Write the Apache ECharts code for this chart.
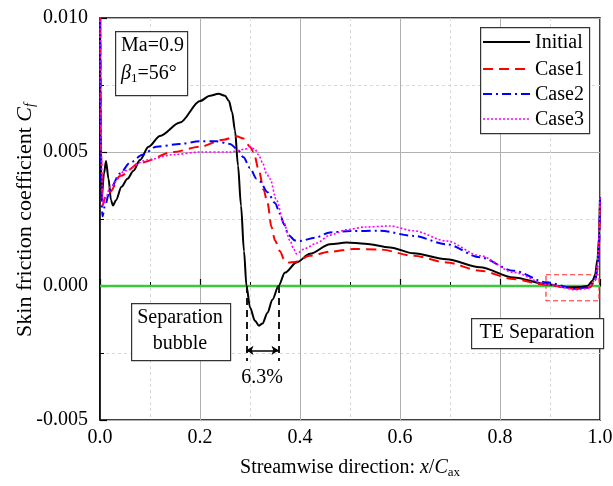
<!DOCTYPE html>
<html>
<head>
<meta charset="utf-8">
<script src="https://cdn.jsdelivr.net/npm/echarts@6/dist/echarts.min.js"></script>
<style>html,body{margin:0;padding:0;background:#fff}#c{width:613px;height:486px}</style>
</head>
<body>
<div id="c"></div>
<script>
// ---- data ----
const initialX = [0, 0.001, 0.003, 0.008, 0.012, 0.017, 0.022, 0.026, 0.032, 0.043, 0.055, 0.067, 0.08, 0.097, 0.12, 0.16, 0.2, 0.22, 0.237, 0.25, 0.258, 0.264, 0.27, 0.276, 0.282, 0.288, 0.293, 0.3, 0.31, 0.318, 0.325, 0.335, 0.345, 0.357, 0.37, 0.393, 0.42, 0.46, 0.493, 0.53, 0.58, 0.627, 0.693, 0.76, 0.827, 0.893, 0.933, 0.96, 0.975, 0.985, 0.99, 0.995, 0.998, 1.0];
const initialY = [0.012, 0.006, 0.0032, 0.0042, 0.00466, 0.0040, 0.0032, 0.0030, 0.0032, 0.0037, 0.0040, 0.0043, 0.0047, 0.0052, 0.0056, 0.0061, 0.0069, 0.0071, 0.00717, 0.0071, 0.0069, 0.0065, 0.0058, 0.0045, 0.0030, 0.0013, 0.0, -0.0008, -0.0013, -0.00148, -0.0014, -0.0010, -0.0005, 0.0, 0.0005, 0.00088, 0.0012, 0.00156, 0.00162, 0.00158, 0.00144, 0.00122, 0.0010, 0.0007, 0.00032, 0.00007, -0.00005, -0.00004, 0.0, 0.0002, 0.0004, 0.0010, 0.0018, 0.0033];

const case1X = [0, 0.002, 0.005, 0.01, 0.02, 0.04, 0.08, 0.147, 0.2, 0.247, 0.273, 0.287, 0.3, 0.307, 0.318, 0.327, 0.335, 0.343, 0.35, 0.36, 0.368, 0.377, 0.39, 0.42, 0.46, 0.507, 0.56, 0.627, 0.693, 0.76, 0.827, 0.893, 0.953, 0.98, 0.99, 0.995, 0.998, 1.0];
const case1Y = [0.012, 0.005, 0.0030, 0.0033, 0.0035, 0.0041, 0.0046, 0.0050, 0.0052, 0.00546, 0.00559, 0.0055, 0.0052, 0.0050, 0.0043, 0.0036, 0.0031, 0.0022, 0.0017, 0.0013, 0.0010, 0.00088, 0.0009, 0.00113, 0.00128, 0.00138, 0.00136, 0.00113, 0.00088, 0.00057, 0.00026, 0.00004, -0.00011, -0.00005, 0.0002, 0.0006, 0.0015, 0.0033];

const case2X = [0, 0.002, 0.005, 0.01, 0.02, 0.04, 0.06, 0.085, 0.113, 0.16, 0.2, 0.233, 0.26, 0.275, 0.287, 0.3, 0.313, 0.32, 0.335, 0.35, 0.36, 0.368, 0.377, 0.39, 0.4, 0.43, 0.46, 0.5, 0.56, 0.627, 0.693, 0.76, 0.827, 0.893, 0.947, 0.975, 0.99, 0.995, 0.998, 1.0];
const case2Y = [0.012, 0.004, 0.0026, 0.0030, 0.0036, 0.0042, 0.0046, 0.0049, 0.0052, 0.0053, 0.0054, 0.0054, 0.0053, 0.0051, 0.0048, 0.0044, 0.0040, 0.0039, 0.0035, 0.0031, 0.0027, 0.0023, 0.0019, 0.0017, 0.00168, 0.0018, 0.0020, 0.00205, 0.00206, 0.00187, 0.00156, 0.00107, 0.00057, 0.00014, -0.00009, -0.00006, 0.0002, 0.0007, 0.0016, 0.0033];

const case3X = [0, 0.002, 0.006, 0.012, 0.02, 0.05, 0.093, 0.147, 0.2, 0.26, 0.29, 0.3, 0.31, 0.317, 0.325, 0.333, 0.34, 0.353, 0.367, 0.38, 0.387, 0.393, 0.41, 0.433, 0.46, 0.493, 0.53, 0.58, 0.627, 0.693, 0.76, 0.827, 0.893, 0.953, 0.975, 0.99, 0.995, 0.998, 1.0];
const case3Y = [0.012, 0.005, 0.0030, 0.0033, 0.0037, 0.0043, 0.0047, 0.0049, 0.0050, 0.0050, 0.0051, 0.0052, 0.0051, 0.0049, 0.0046, 0.0042, 0.0040, 0.0032, 0.0024, 0.0017, 0.0014, 0.0012, 0.0014, 0.0016, 0.0019, 0.0021, 0.0022, 0.00224, 0.00206, 0.00168, 0.00113, 0.00051, 0.00007, -0.00014, -0.0001, 0.0002, 0.0008, 0.0018, 0.0033];

const seriesNames = ['Initial', 'Case1', 'Case2', 'Case3'];
const seriesColors = ['#000000', '#ff0000', '#0000ff', '#ff00ff'];
const seriesDash = [null, [10, 6], [9, 4, 2, 4], [2, 2]];
const seriesWidth = [2, 2, 2, 1.6];
const bubbleStart = 0.293, bubbleEnd = 0.357;
const teBox = [[0.892, 0.00042], [0.998, -0.00055]];

// ---- chart ----
const FONT = "'Liberation Serif', 'Times New Roman', serif";
const pairs = (xs, ys) => xs.map((x, i) => [x, ys[i]]);
const chart = echarts.init(document.getElementById('c'), null, {renderer: 'canvas'});

const mk = (i, xs, ys) => ({
  name: seriesNames[i], type: 'line', data: pairs(xs, ys), symbol: 'none', smooth: 0.3, smoothMonotone: 'x',
  clip: true, lineStyle: {color: seriesColors[i], type: seriesDash[i] || 'solid', width: seriesWidth[i]},
  itemStyle: {color: seriesColors[i]}, z: 3
});

// manual legend (line samples + labels)
const legendGraphics = [
  {type: 'rect', left: 480, top: 27, shape: {width: 109, height: 106}, style: {fill: '#fff', stroke: '#333', lineWidth: 1.2}, z: 10}
];
const legendRows = [42, 69, 94, 119];
seriesNames.forEach((n, i) => {
  legendGraphics.push({type: 'line', z: 11, shape: {x1: 483, y1: legendRows[i], x2: 530, y2: legendRows[i]},
    style: {stroke: seriesColors[i], lineWidth: seriesWidth[i], lineDash: seriesDash[i] || null}});
  legendGraphics.push({type: 'text', z: 11, style: {x: 535, y: legendRows[i] + 1, text: n, font: '20px ' + FONT, fill: '#000', align: 'left', verticalAlign: 'middle'}});
});

const option = {
  animation: false,
  backgroundColor: '#fff',
  grid: {left: 100, right: 13, top: 18, bottom: 66, containLabel: false, outerBoundsMode: 'none',
         show: true, borderColor: '#000', borderWidth: 1.5, backgroundColor: 'transparent'},
  xAxis: {
    type: 'value', min: 0, max: 1, interval: 0.2,
    axisLine: {show: true, lineStyle: {color: '#000', width: 1.5}},
    axisTick: {show: true, inside: true, length: 7, lineStyle: {color: '#000', width: 1.2}},
    minorTick: {show: true, splitNumber: 2, length: 4, lineStyle: {color: '#000', width: 1}},
    splitLine: {show: true, lineStyle: {color: '#b0b0b0', width: 1}},
    minorSplitLine: {show: true, lineStyle: {color: '#d8d8d8', type: [3, 3], width: 1}},
    axisLabel: {fontFamily: FONT, fontSize: 20, color: '#000', margin: 8, formatter: v => v.toFixed(1)},
    name: '{a|Streamwise direction: }{i|x}{a|/}{i|C}{s|ax}', nameLocation: 'middle', nameGap: 36,
    nameTextStyle: {rich: {
      a: {fontFamily: FONT, fontSize: 20, color: '#000'},
      i: {fontFamily: FONT, fontSize: 20, fontStyle: 'italic', color: '#000'},
      s: {fontFamily: FONT, fontSize: 13, color: '#000', padding: [10, 0, 0, 0]}
    }}
  },
  yAxis: {
    type: 'value', min: -0.005, max: 0.010, interval: 0.005,
    axisLine: {show: true, lineStyle: {color: '#000', width: 1.5}},
    axisTick: {show: true, inside: true, length: 7, lineStyle: {color: '#000', width: 1.2}},
    minorTick: {show: true, splitNumber: 2, length: 4, lineStyle: {color: '#000', width: 1}},
    splitLine: {show: true, lineStyle: {color: '#b0b0b0', width: 1}},
    minorSplitLine: {show: true, lineStyle: {color: '#d8d8d8', type: [3, 3], width: 1}},
    axisLabel: {fontFamily: FONT, fontSize: 20, color: '#000', margin: 12, formatter: v => v.toFixed(3)}
  },
  series: [
    {
      name: 'zero', type: 'line', data: [[0, 0], [1, 0]], symbol: 'none',
      lineStyle: {color: '#3cc83c', width: 2.5}, z: 2, silent: true,
      markLine: {
        silent: true, symbol: 'none', animation: false,
        label: {show: false},
        lineStyle: {color: '#000', type: [7, 5], width: 1.8},
        data: [
          [{coord: [bubbleStart, 0]}, {coord: [bubbleStart, -0.0028]}],
          [{coord: [bubbleEnd, 0]}, {coord: [bubbleEnd, -0.0028]}],
          [{coord: [bubbleStart, -0.0024], symbol: 'arrow', symbolSize: 7, lineStyle: {type: 'solid', width: 1.5}},
           {coord: [bubbleEnd, -0.0024], symbol: 'arrow', symbolSize: 7}]
        ]
      },
      markArea: {
        silent: true,
        itemStyle: {color: 'rgba(0,0,0,0)', borderColor: '#ff3030', borderType: [5, 3], borderWidth: 1.2},
        data: [[{coord: teBox[0]}, {coord: teBox[1]}]]
      }
    },
    mk(0, initialX, initialY),
    mk(1, case1X, case1Y),
    mk(2, case2X, case2Y),
    mk(3, case3X, case3Y)
  ],
  graphic: legendGraphics.concat([
    {type: 'text', x: 25, y: 220, rotation: Math.PI / 2, z: 11, style: {
      text: '{a|Skin friction coefficient }{i|C}{s|f}', align: 'center', verticalAlign: 'middle',
      rich: {
        a: {font: '22px ' + FONT, fill: '#000'},
        i: {font: 'italic 22px ' + FONT, fill: '#000'},
        s: {font: 'italic 14px ' + FONT, fill: '#000', padding: [10, 0, 0, 0]}
      }}},
    {type: 'rect', left: 115, top: 31, shape: {width: 72, height: 64}, style: {fill: '#fff', stroke: '#333', lineWidth: 1.2}, z: 10},
    {type: 'text', left: 121, top: 36, z: 11, style: {text: 'Ma=0.9', font: '20px ' + FONT, fill: '#000'}},
    {type: 'text', left: 121, top: 64, z: 11, style: {
      text: '{b|β}{s|1}{a|=56°}', rich: {
        b: {font: 'italic 20px ' + FONT, fill: '#000'},
        s: {font: '13px ' + FONT, fill: '#000', padding: [9, 0, 0, 0]},
        a: {font: '20px ' + FONT, fill: '#000'}
      }}},
    {type: 'rect', left: 131, top: 303, shape: {width: 99, height: 57}, style: {fill: '#fff', stroke: '#333', lineWidth: 1.2}, z: 10},
    {type: 'text', z: 11, style: {x: 180, y: 318, text: 'Separation', font: '20px ' + FONT, fill: '#000', align: 'center', verticalAlign: 'middle'}},
    {type: 'text', z: 11, style: {x: 180, y: 344, text: 'bubble', font: '20px ' + FONT, fill: '#000', align: 'center', verticalAlign: 'middle'}},
    {type: 'text', z: 11, style: {x: 262, y: 378, text: '6.3%', font: '20px ' + FONT, fill: '#000', align: 'center', verticalAlign: 'middle'}},
    {type: 'rect', left: 471, top: 318, shape: {width: 132, height: 30}, style: {fill: '#fff', stroke: '#333', lineWidth: 1.2}, z: 10},
    {type: 'text', z: 11, style: {x: 537, y: 333, text: 'TE Separation', font: '20px ' + FONT, fill: '#000', align: 'center', verticalAlign: 'middle'}}
  ])
};
chart.setOption(option);
</script>
</body>
</html>
